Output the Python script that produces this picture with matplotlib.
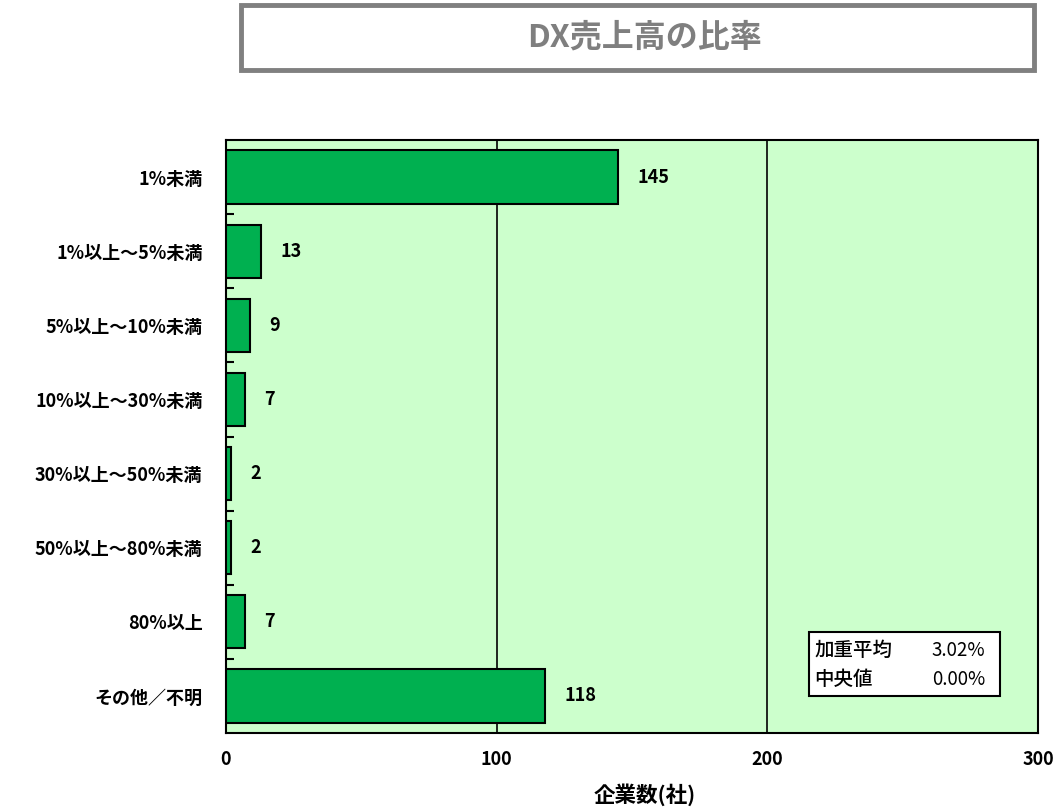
import matplotlib
matplotlib.use("Agg")
import matplotlib.pyplot as plt
from matplotlib.patches import Rectangle
from matplotlib.ticker import FixedLocator

plt.rcParams['font.family'] = ['Noto Sans CJK JP', 'DejaVu Sans']

categories = ["1%未満", "1%以上～5%未満", "5%以上～10%未満", "10%以上～30%未満",
              "30%以上～50%未満", "50%以上～80%未満", "80%以上", "その他／不明"]
counts = [145, 13, 9, 7, 2, 2, 7, 118]
x_ticks = [0, 100, 200, 300]
title = "DX売上高の比率"
xlabel = "企業数(社)"
stat_names = ["加重平均", "中央値"]
stat_values = ["3.02%", "0.00%"]

fig = plt.figure(figsize=(10.62, 8.07), dpi=100)
ax = fig.add_axes([0.2128, 0.0917, 0.7646, 0.7348])
ax.set_facecolor("#CCFFCC")

n = len(categories)
ypos = list(range(n))
ax.barh(ypos, counts, height=0.72, color="#00B050", edgecolor="black", linewidth=1.5, zorder=3)
for y, v in zip(ypos, counts):
    ax.text(v + 7, y, str(v), va="center", ha="left", fontsize=13, fontweight="bold", zorder=4)

ax.set_xlim(0, 300)
ax.set_ylim(n - 0.5, -0.5)
ax.set_xticks(x_ticks)
ax.set_xticklabels([str(t) for t in x_ticks], fontsize=13, fontweight="bold")
ax.tick_params(axis="x", length=0, pad=12)
for t in x_ticks[1:-1]:
    ax.axvline(t, color="black", linewidth=1.2, zorder=2)

ax.set_yticks(ypos)
ax.set_yticklabels(categories, fontsize=13, fontweight="bold")
ax.tick_params(axis="y", which="major", length=0, pad=17)
ax.yaxis.set_minor_locator(FixedLocator([i + 0.5 for i in range(n - 1)]))
ax.tick_params(axis="y", which="minor", direction="in", length=6, width=1.5)

for s in ax.spines.values():
    s.set_linewidth(1.5)
    s.set_color("black")

fig.text(645 / 1062, 1 - 795 / 807, xlabel, ha="center", va="center",
         fontsize=15.5, fontweight="bold")

# statistics box (axes fractions)
bx0, by0, bw, bh = 0.718, 0.062, 0.235, 0.108
ax.add_patch(Rectangle((bx0, by0), bw, bh, transform=ax.transAxes, facecolor="white",
                       edgecolor="black", linewidth=1.5, zorder=5))
for i, (name, val) in enumerate(zip(stat_names, stat_values)):
    yy = by0 + bh * (0.72 - 0.46 * i)
    ax.text(bx0 + 0.007, yy, name, transform=ax.transAxes, fontsize=14,
            va="center", ha="left", fontweight="medium", zorder=6)
    ax.text(bx0 + bw - 0.018, yy, val, transform=ax.transAxes, fontsize=13.5,
            va="center", ha="right", zorder=6)

# title frame
fig.patches.append(Rectangle((241 / 1062, 1 - 70 / 807), (1034 - 241) / 1062, 65 / 807,
                             transform=fig.transFigure, facecolor="white",
                             edgecolor="#808080", linewidth=3.5))
fig.text(645 / 1062, 1 - 38 / 807, title, ha="center", va="center", fontsize=23,
         fontweight="bold", color="#7F7F7F")

fig.savefig("out.png", dpi=100)
